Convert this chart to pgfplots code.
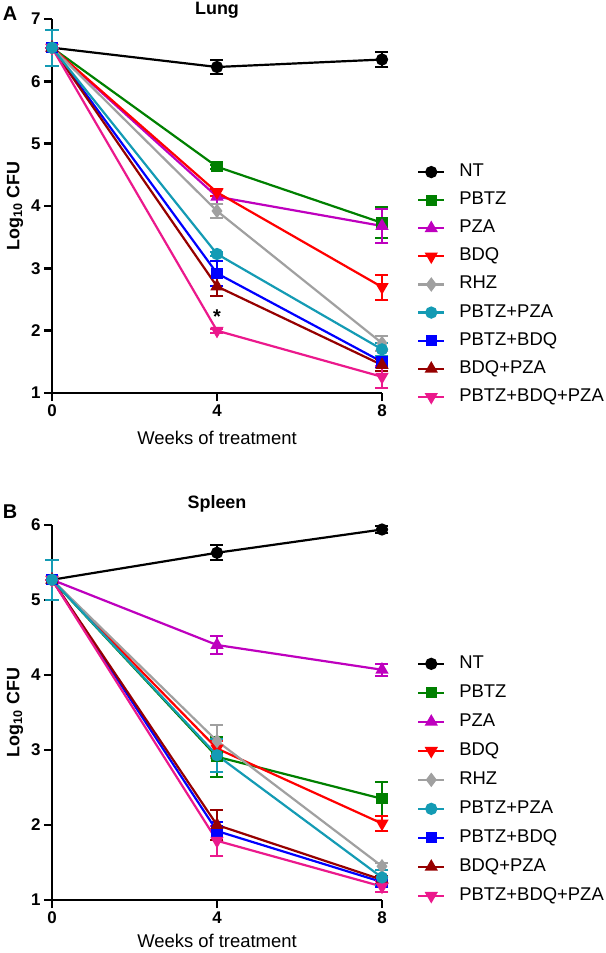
\documentclass[border=0pt]{standalone}
\usepackage{fontspec}
\setmainfont{Liberation Sans}
\usepackage{pgfplots}
\pgfplotsset{compat=1.18}
\definecolor{cNT}{RGB}{0,0,0}
\definecolor{cPBTZ}{RGB}{0,128,0}
\definecolor{cPZA}{RGB}{190,0,190}
\definecolor{cBDQ}{RGB}{255,0,0}
\definecolor{cRHZ}{RGB}{160,160,160}
\definecolor{cPP}{RGB}{20,155,180}
\definecolor{cPB}{RGB}{0,0,255}
\definecolor{cBP}{RGB}{150,0,0}
\definecolor{cPBP}{RGB}{235,25,140}
\pgfplotsset{
  prism/.style={
    scale only axis, width=330bp,
    xmin=0, xmax=8, xtick={0,4,8},
    axis lines=left, axis line style={line width=2.6bp, -},
    tick align=outside, major tick length=8bp,
    tick style={line width=2.4bp, black},
    minor tick num=0,
    ticklabel style={font=\bfseries\fontsize{17}{17}\selectfont},
    /pgf/number format/assume math mode=true,
    xlabel={Weeks of treatment},
    xlabel style={font=\fontsize{18.5}{18.5}\selectfont, at={(axis description cs:0.5,0)}, anchor=center},
    ylabel={Log\textsubscript{10} CFU},
    ylabel style={font=\bfseries\fontsize{18}{18}\selectfont, at={(axis description cs:-0.112,0.5)}, anchor=center, rotate=0},
    title style={font=\bfseries\fontsize{18}{18}\selectfont, at={(axis description cs:0.5,1)}, anchor=center},
    clip=false,
    legend cell align=left,
    legend image code/.code={\draw[mark repeat=2,mark phase=2] plot coordinates {(0bp,0bp)(13bp,0bp)(26bp,0bp)};},
    every axis plot/.append style={line width=2.2bp},
    error bars/y dir=both, error bars/y explicit,
    error bars/error mark options={rotate=90, line width=2bp, mark size=6.5bp, solid},
    error bars/error bar style={line width=2bp, solid},
  },
  sNT/.style={color=cNT, mark=*, mark size=5bp},
  sPBTZ/.style={color=cPBTZ, mark=square*, mark size=4.5bp},
  sPZA/.style={color=cPZA, mark=triangle*, mark size=5.5bp},
  sBDQ/.style={color=cBDQ, mark=triangle*, mark size=5.5bp, mark options={rotate=180}},
  sRHZ/.style={color=cRHZ, mark=diamond*, mark size=5.5bp},
  sPP/.style={color=cPP, mark=*, mark size=5bp},
  sPB/.style={color=cPB, mark=square*, mark size=4.5bp},
  sBP/.style={color=cBP, mark=triangle*, mark size=5.5bp},
  sPBP/.style={color=cPBP, mark=triangle*, mark size=5.5bp, mark options={rotate=180}},
}
\begin{document}
\begin{tikzpicture}
\useasboundingbox (0,0) rectangle (606bp,-953bp);
\node[font=\bfseries\fontsize{20}{20}\selectfont] at (10bp,-14bp) {A};
\node[font=\bfseries\fontsize{20}{20}\selectfont] at (10bp,-512bp) {B};
% Panel A
\begin{axis}[prism, at={(52bp,-393bp)}, anchor=south west, height=374bp,
  ymin=1, ymax=7, ytick={1,2,3,4,5,6,7},
  title={Lung}, title style={yshift=3bp},
  xlabel style={yshift=-45bp},
  legend style={draw=none, fill=none, at={(axis description cs:1.106,0.614)}, anchor=north west,
    font=\fontsize{18.5}{18.5}\selectfont, row sep=11.1bp, column sep=14bp, inner sep=0pt,
    nodes={inner sep=0pt, text height=13bp, text depth=4bp}},
]
\addplot[sNT] coordinates {(0,6.54) +- (0,0) (4,6.23) +- (0,0.11) (8,6.35) +- (0,0.12)};
\addlegendentry{NT}
\addplot[sPBTZ] coordinates {(0,6.54) +- (0,0) (4,4.63) +- (0,0.03) (8,3.73) +- (0,0.25)};
\addlegendentry{PBTZ}
\addplot[sPZA] coordinates {(0,6.54) +- (0,0) (4,4.15) +- (0,0.12) (8,3.68) +- (0,0.27)};
\addlegendentry{PZA}
\addplot[sBDQ] coordinates {(0,6.54) +- (0,0) (4,4.22) +- (0,0.06) (8,2.70) +- (0,0.20)};
\addlegendentry{BDQ}
\addplot[sRHZ] coordinates {(0,6.54) +- (0,0) (4,3.92) +- (0,0.12) (8,1.80) +- (0,0.12)};
\addlegendentry{RHZ}
\addlegendimage{sPP, line width=2.2bp}
\addlegendentry{PBTZ+PZA}
\addplot[sPB] coordinates {(0,6.54) +- (0,0) (4,2.92) +- (0,0.20) (8,1.50) +- (0,0.08)};
\addlegendentry{PBTZ+BDQ}
\addplot[sBP] coordinates {(0,6.54) +- (0,0) (4,2.71) +- (0,0.15) (8,1.45) +- (0,0.10)};
\addlegendentry{BDQ+PZA}
\addplot[sPBP] coordinates {(0,6.54) +- (0,0) (4,2.00) +- (0,0.03) (8,1.26) +- (0,0.18)};
\addlegendentry{PBTZ+BDQ+PZA}
\addplot[sPP, forget plot] coordinates {(0,6.54) +- (0,0.29) (4,3.23) +- (0,0.03) (8,1.70) +- (0,0.10)};
\node[font=\bfseries\fontsize{20}{20}\selectfont] at (axis cs:4,2.22) {*};
\end{axis}
% Panel B
\begin{axis}[prism, at={(52bp,-900bp)}, anchor=south west, height=375bp,
  ymin=1, ymax=6, ytick={1,2,3,4,5,6},
  title={Spleen}, title style={yshift=15bp},
  xlabel style={yshift=-41bp},
  legend style={draw=none, fill=none, at={(axis description cs:1.106,0.653)}, anchor=north west,
    font=\fontsize{18.5}{18.5}\selectfont, row sep=12bp, column sep=14bp, inner sep=0pt,
    nodes={inner sep=0pt, text height=13bp, text depth=4bp}},
]
\addplot[sNT] coordinates {(0,5.27) +- (0,0) (4,5.63) +- (0,0.10) (8,5.94) +- (0,0.05)};
\addlegendentry{NT}
\addplot[sPBTZ] coordinates {(0,5.27) +- (0,0) (4,2.91) +- (0,0.27) (8,2.35) +- (0,0.23)};
\addlegendentry{PBTZ}
\addplot[sPZA] coordinates {(0,5.27) +- (0,0) (4,4.40) +- (0,0.12) (8,4.07) +- (0,0.08)};
\addlegendentry{PZA}
\addplot[sBDQ] coordinates {(0,5.27) +- (0,0) (4,3.02) +- (0,0.10) (8,2.02) +- (0,0.10)};
\addlegendentry{BDQ}
\addplot[sRHZ] coordinates {(0,5.27) +- (0,0) (4,3.12) +- (0,0.22) (8,1.45) +- (0,0.05)};
\addlegendentry{RHZ}
\addlegendimage{sPP, line width=2.2bp}
\addlegendentry{PBTZ+PZA}
\addplot[sPB] coordinates {(0,5.27) +- (0,0) (4,1.92) +- (0,0.12) (8,1.24) +- (0,0.06)};
\addlegendentry{PBTZ+BDQ}
\addplot[sBP] coordinates {(0,5.27) +- (0,0) (4,2.00) +- (0,0.20) (8,1.27) +- (0,0.05)};
\addlegendentry{BDQ+PZA}
\addplot[sPBP] coordinates {(0,5.27) +- (0,0) (4,1.79) +- (0,0.20) (8,1.18) +- (0,0.07)};
\addlegendentry{PBTZ+BDQ+PZA}
\addplot[sPP, forget plot] coordinates {(0,5.27) +- (0,0.27) (4,2.93) +- (0,0.22) (8,1.30) +- (0,0.10)};
\end{axis}
\end{tikzpicture}
\end{document}
